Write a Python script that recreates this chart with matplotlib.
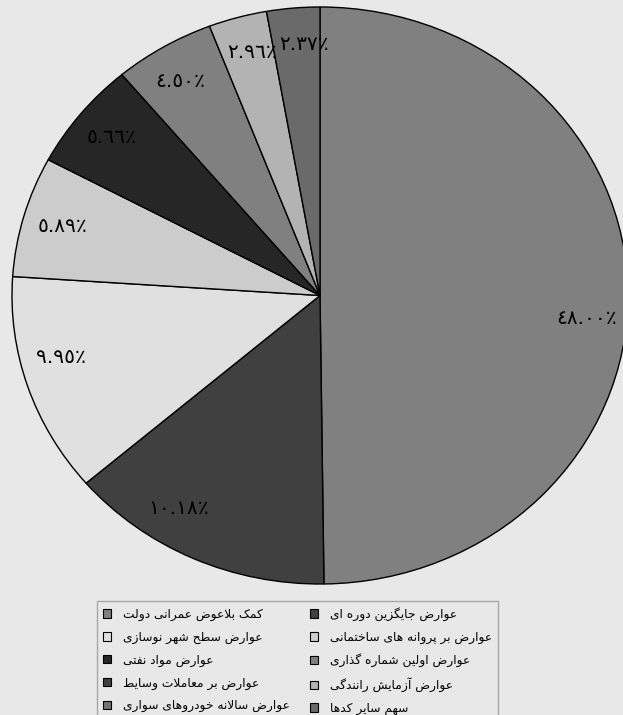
import matplotlib
matplotlib.use('Agg')
import matplotlib.pyplot as plt
import numpy as np
from matplotlib.patches import Patch

# categories in row order of the legend (also the order of the slices, clockwise from top)
categories = ['کمک بلاعوض عمرانی دولت', 'عوارض جایگزین دوره ای',
              'عوارض سطح شهر نوسازی', 'عوارض بر پروانه های ساختمانی',
              'عوارض مواد نفتی', 'عوارض اولین شماره گذاری',
              'عوارض بر معاملات وسایط', 'عوارض آزمایش رانندگی',
              'عوارض سالانه خودروهای سواری', 'سهم سایر کدها']
# slice sizes as drawn (share of the circle, %)
shares = [49.79, 13.93, 12.32, 6.75, 6.08, 5.28, 0, 3.06, 0, 2.78]
# percentages printed on the slices
printed = [48.00, 10.18, 9.95, 5.89, 5.66, 4.50, None, 2.96, None, 2.37]
colors = ['#808080', '#404040', '#e0e0e0', '#cccccc', '#262626',
          '#808080', '#404040', '#b3b3b3', '#747474', '#6a6a6a']
# small angular shifts of the printed labels (degrees), as placed in the original
label_shift = [-5.7, -7.6, -4.0, 0, 0, 1.0, 0, -0.8, 0, -1.5]

# --- minimal Persian shaping (matplotlib has no bidi / joining support) ---
FORMS = {
    '\u0627': '\uFE8D\uFE8E', '\u0622': '\uFE81\uFE82',
    '\u0628': '\uFE8F\uFE90\uFE91\uFE92', '\u067E': '\uFB56\uFB57\uFB58\uFB59',
    '\u062A': '\uFE95\uFE96\uFE97\uFE98', '\u062C': '\uFE9D\uFE9E\uFE9F\uFEA0',
    '\u062D': '\uFEA1\uFEA2\uFEA3\uFEA4', '\u062E': '\uFEA5\uFEA6\uFEA7\uFEA8',
    '\u062F': '\uFEA9\uFEAA', '\u0630': '\uFEAB\uFEAC',
    '\u0631': '\uFEAD\uFEAE', '\u0632': '\uFEAF\uFEB0',
    '\u0633': '\uFEB1\uFEB2\uFEB3\uFEB4', '\u0634': '\uFEB5\uFEB6\uFEB7\uFEB8',
    '\u0636': '\uFEBD\uFEBE\uFEBF\uFEC0', '\u0637': '\uFEC1\uFEC2\uFEC3\uFEC4',
    '\u0639': '\uFEC9\uFECA\uFECB\uFECC', '\u0641': '\uFED1\uFED2\uFED3\uFED4',
    '\u06A9': '\uFB8E\uFB8F\uFB90\uFB91', '\u06AF': '\uFB92\uFB93\uFB94\uFB95',
    '\u0644': '\uFEDD\uFEDE\uFEDF\uFEE0', '\u0645': '\uFEE1\uFEE2\uFEE3\uFEE4',
    '\u0646': '\uFEE5\uFEE6\uFEE7\uFEE8', '\u0647': '\uFEE9\uFEEA\uFEEB\uFEEC',
    '\u0648': '\uFEED\uFEEE', '\u06CC': '\uFBFC\uFBFD\uFBFE\uFBFF',
}
LAM_ALEF = {'\u0627': '\uFEFB\uFEFC', '\u0622': '\uFEF5\uFEF6'}


def shape(s):
    # merge lam + alef into one unit first
    units = []
    i = 0
    while i < len(s):
        if s[i] == '\u0644' and i + 1 < len(s) and s[i + 1] in LAM_ALEF:
            units.append(('LA', LAM_ALEF[s[i + 1]]))
            i += 2
        else:
            units.append((s[i], FORMS.get(s[i])))
            i += 1
    out = []
    for k, (ch, forms) in enumerate(units):
        if forms is None:
            out.append(ch)
            continue
        prev = units[k - 1][1] if k > 0 else None
        nxt = units[k + 1][1] if k + 1 < len(units) else None
        jp = prev is not None and len(prev) == 4
        jn = nxt is not None and len(forms) == 4
        if jp and jn:
            out.append(forms[3])
        elif jp:
            out.append(forms[1])
        elif jn:
            out.append(forms[2])
        else:
            out.append(forms[0])
    return ''.join(reversed(out))


def arabic_pct(v):
    digits = '٠١٢٣٤٥٦٧٨٩'
    return ''.join(digits[int(c)] if c.isdigit() else c for c in f'{v:.2f}') + '٪'


plt.rcParams['font.family'] = ['DejaVu Sans']
bg = '#e8e8e8'
fig = plt.figure(figsize=(6.23, 7.15), dpi=100, facecolor=bg)

# pie is drawn stretched (wider than tall), like the original
ax = fig.add_axes([12 / 623, 131 / 715, 616 / 623, 577 / 715])
idx = [i for i, s in enumerate(shares) if s > 0]
wedges, _ = ax.pie([shares[i] for i in idx],
                   colors=[colors[i] for i in idx],
                   startangle=90, counterclock=False,
                   wedgeprops=dict(edgecolor='black', linewidth=1.0))
for w, i in zip(wedges, idx):
    ang = np.deg2rad((w.theta1 + w.theta2) / 2 + label_shift[i])
    ax.text(0.87 * np.cos(ang), 0.87 * np.sin(ang), arabic_pct(printed[i]),
            ha='center', va='center', fontsize=14.5, color='black')
ax.set_aspect('auto')
ax.set_xlim(-1, 1)
ax.set_ylim(-1, 1)
ax.set_facecolor(bg)

# legend: matplotlib fills columns first, the original reads row by row
order = list(range(0, 10, 2)) + list(range(1, 10, 2))
handles = [Patch(facecolor=colors[i], edgecolor='black', linewidth=0.8) for i in order]
leg = fig.legend(handles, [shape(categories[i]) for i in order], ncol=2,
                 loc='upper left', bbox_to_anchor=(97 / 623, 1 - 601 / 715),
                 bbox_transform=fig.transFigure, borderaxespad=0,
                 fontsize=8.8, handlelength=0.65, handleheight=0.65,
                 handletextpad=1.0, labelspacing=0.8, columnspacing=1.6,
                 borderpad=0.5, fancybox=False, framealpha=1,
                 facecolor=bg, edgecolor='#a8a8a8')
leg.get_frame().set_linewidth(1.0)

fig.savefig('out.png', dpi=100, facecolor=bg)
